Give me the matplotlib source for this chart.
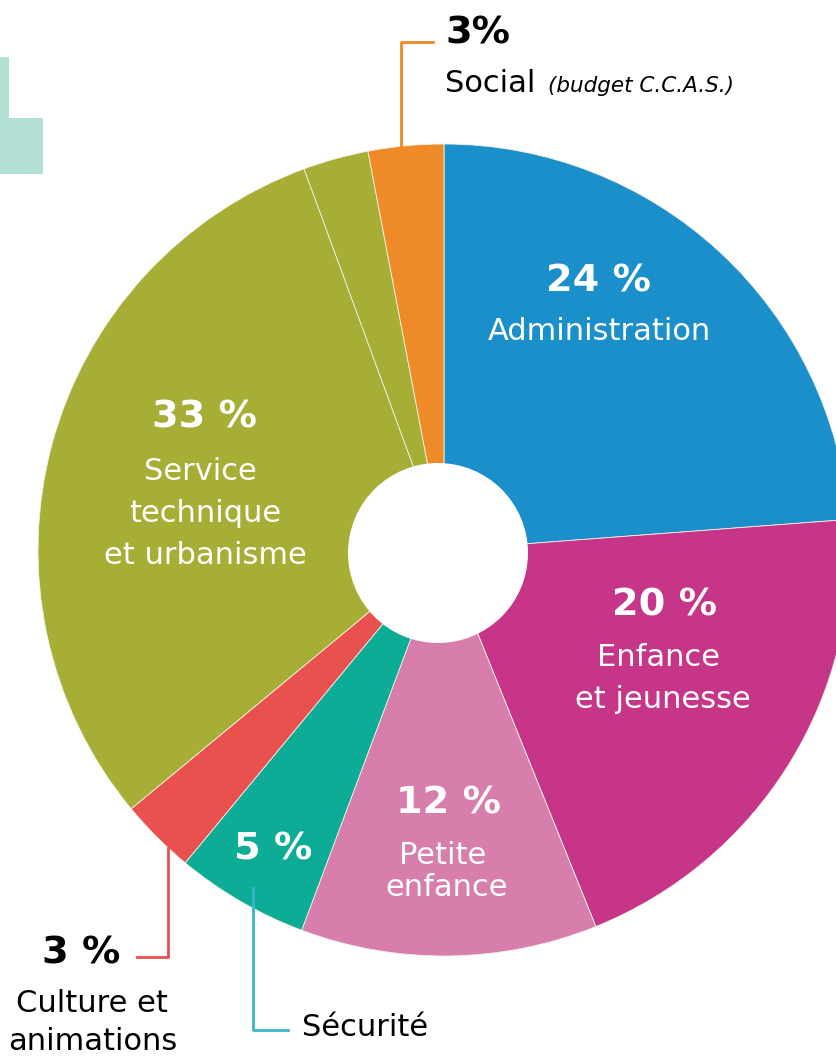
import matplotlib.pyplot as plt
from matplotlib.patches import Circle, Polygon

# budget shares, clockwise from 12 o'clock (olive split into two wedges as drawn)
categories = ['Administration', 'Enfance et jeunesse', 'Petite enfance', 'Sécurité',
              'Culture et animations', 'Service technique et urbanisme', 'Service technique (b)',
              'Social']
values = [23.8, 20.1, 11.8, 5.3, 3.0, 30.4, 2.6, 3.0]
colors = ['#1a8fca', '#c63587', '#d77eac', '#0dac96', '#e9514f', '#a7ae36', '#a7ae36', '#ef8a28']

W, H = 836, 1057


def Y(y):
    # picture rows -> axes coordinates
    return H - y


fig = plt.figure(figsize=(W / 100, H / 100), dpi=100)
ax = fig.add_axes([0, 0, 1, 1])
ax.set_xlim(0, W)
ax.set_ylim(0, H)
ax.set_aspect('equal')
ax.axis('off')

ax.pie(values, colors=colors, startangle=90, counterclock=False,
       center=(444, Y(550)), radius=406,
       wedgeprops=dict(edgecolor='#f2f2e6', linewidth=0.6))
ax.set_xlim(0, W)
ax.set_ylim(0, H)
ax.add_patch(Circle((438, Y(553)), 90, facecolor='white', edgecolor='none', zorder=3))

# mint decoration top left
ax.add_patch(Polygon([(0, Y(57)), (9, Y(57)), (9, Y(118)), (43, Y(118)), (43, Y(174)), (0, Y(174))],
                     closed=True, facecolor='#b3e0d5', edgecolor='none'))

big = dict(family='DejaVu Sans', weight='heavy', ha='center', va='center', fontsize=27.5)
lab = dict(family='DejaVu Sans', ha='center', va='center', fontsize=22)

# labels inside
ax.text(598, Y(282), '24 %', color='white', **big)
ax.text(599, Y(332), 'Administration', color='white', **lab)
ax.text(205, Y(418), '33 %', color='white', **big)
ax.text(200, Y(472), 'Service', color='white', **lab)
ax.text(205, Y(514), 'technique', color='white', **lab)
ax.text(205, Y(556), 'et urbanisme', color='white', **lab)
ax.text(665, Y(606), '20 %', color='white', **big)
ax.text(659, Y(657), 'Enfance', color='white', **lab)
ax.text(663, Y(699), 'et jeunesse', color='white', **lab)
ax.text(448, Y(803), '12 %', color='white', **big)
ax.text(443, Y(855), 'Petite', color='white', **lab)
ax.text(447, Y(888), 'enfance', color='white', **lab)
ax.text(273, Y(850), '5 %', color='white', **big)

# outside labels
ax.text(478, Y(33), '3%', color='black', **big)
ax.text(490, Y(84), 'Social', color='black', **lab)
ax.text(641, Y(86), '(budget C.C.A.S.)', color='black', family='DejaVu Sans', style='italic',
        fontsize=15.5, ha='center', va='center')
ax.text(81, Y(953), '3 %', color='black', **big)
ax.text(92, Y(1003), 'Culture et', color='black', **lab)
ax.text(93, Y(1042), 'animations', color='black', **lab)
ax.text(365, Y(1028), 'Sécurité', color='black', **lab)

# leader lines
ax.plot([401, 401, 433], [Y(150), Y(42), Y(42)], color='#ef8a28', lw=2)
ax.plot([168, 168, 137], [Y(848), Y(957), Y(957)], color='#e9514f', lw=2)
ax.plot([253, 253, 288], [Y(888), Y(1030), Y(1030)], color='#3ab5c8', lw=2)

fig.savefig('out.png', dpi=100)
